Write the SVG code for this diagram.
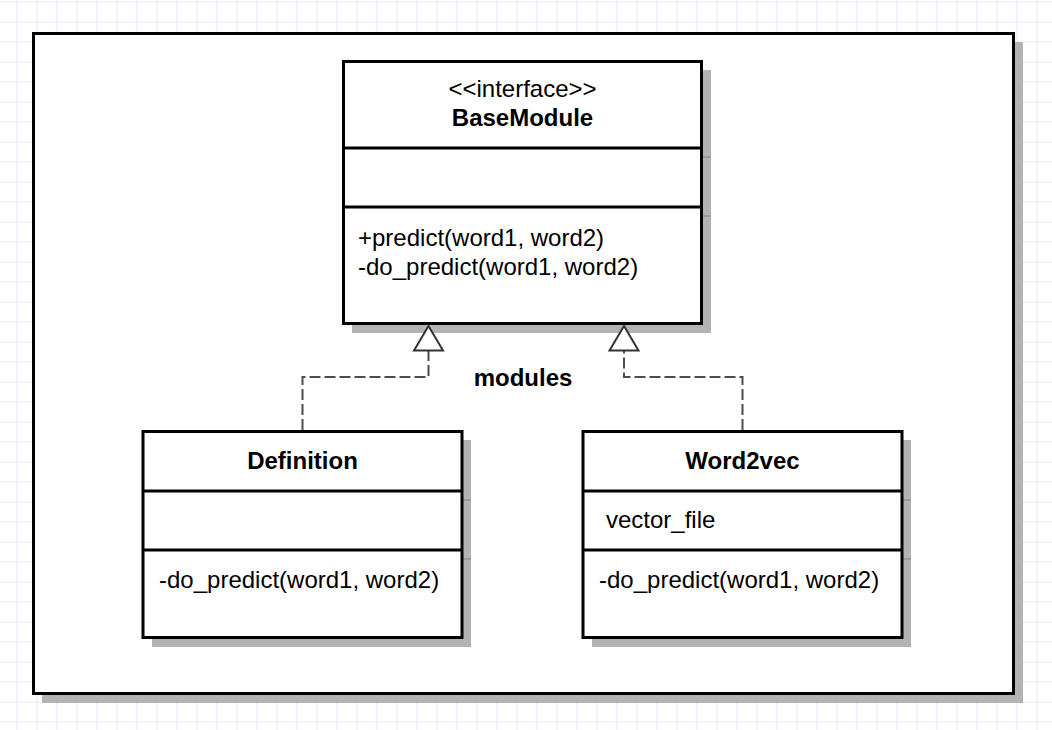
<svg xmlns="http://www.w3.org/2000/svg" width="1052" height="730" viewBox="0 0 1052 730">
<defs>
<pattern id="grid" x="16.5" y="1.5" width="20" height="20" patternUnits="userSpaceOnUse">
<path d="M0 0.5H20M0.5 0V20" fill="none" stroke="#e6e6fb" stroke-width="1.2"/>
</pattern>
<style>
.box{fill:#ffffff;stroke:#000000;stroke-width:3}
.div{stroke:#000000;stroke-width:3}
.shadow{fill:#b3b3b3}
.tick{stroke:#999999;stroke-width:2}
.t{font-family:"Liberation Sans",Arial,sans-serif;font-size:24px;fill:#000000}
.b{font-weight:bold}
.c{text-anchor:middle}
.dash{fill:none;stroke:#4d4d4d;stroke-width:2;stroke-dasharray:11 4}
.tri{fill:#ffffff;stroke:#333333;stroke-width:2}
</style>
</defs>
<rect width="1052" height="730" fill="#ffffff"/>
<rect width="1052" height="730" fill="url(#grid)"/>

<g id="frame">
<rect class="shadow" x="42" y="42" width="981" height="661"/>
<rect class="box" x="33.5" y="33.5" width="980" height="660"/>
<text class="t b c" x="523" y="386">modules</text>
</g>

<g id="BaseModule">
<rect class="shadow" x="352" y="70" width="359" height="263"/>
<line class="tick" x1="703" y1="157" x2="711" y2="157"/>
<line class="tick" x1="703" y1="216" x2="711" y2="216"/>
<rect class="box" x="343.5" y="61.5" width="358" height="262"/>
<line class="div" x1="343.5" y1="148" x2="701.5" y2="148"/>
<line class="div" x1="343.5" y1="207" x2="701.5" y2="207"/>
<text class="t c" x="522.5" y="97">&lt;&lt;interface&gt;&gt;</text>
<text class="t b c" x="522.5" y="126">BaseModule</text>
<text class="t" x="358" y="246">+predict(word1, word2)</text>
<text class="t" x="358" y="275">-do_predict(word1, word2)</text>
</g>

<g id="Definition">
<rect class="shadow" x="152" y="440" width="319" height="207"/>
<line class="tick" x1="463" y1="500" x2="471" y2="500"/>
<line class="tick" x1="463" y1="559" x2="471" y2="559"/>
<rect class="box" x="143" y="431.5" width="319" height="206"/>
<line class="div" x1="143" y1="491" x2="462" y2="491"/>
<line class="div" x1="143" y1="550" x2="462" y2="550"/>
<text class="t b c" x="302.5" y="469">Definition</text>
<text class="t" x="159" y="588">-do_predict(word1, word2)</text>
</g>

<g id="Word2vec">
<rect class="shadow" x="592" y="440" width="319" height="207"/>
<line class="tick" x1="903" y1="500" x2="911" y2="500"/>
<line class="tick" x1="903" y1="559" x2="911" y2="559"/>
<rect class="box" x="583" y="431.5" width="319" height="206"/>
<line class="div" x1="583" y1="491" x2="902" y2="491"/>
<line class="div" x1="583" y1="550" x2="902" y2="550"/>
<text class="t b c" x="742.5" y="469">Word2vec</text>
<text class="t" x="606" y="528">vector_file</text>
<text class="t" x="599" y="588">-do_predict(word1, word2)</text>
</g>

<g id="connectors">
<path class="dash" d="M302.5 430V377H428.5V351"/>
<polygon class="tri" points="428.5,326 414,350.5 443,350.5"/>
<path class="dash" d="M742.5 430V377H624V351"/>
<polygon class="tri" points="624,326 609.5,350.5 638.5,350.5"/>
</g>
</svg>
